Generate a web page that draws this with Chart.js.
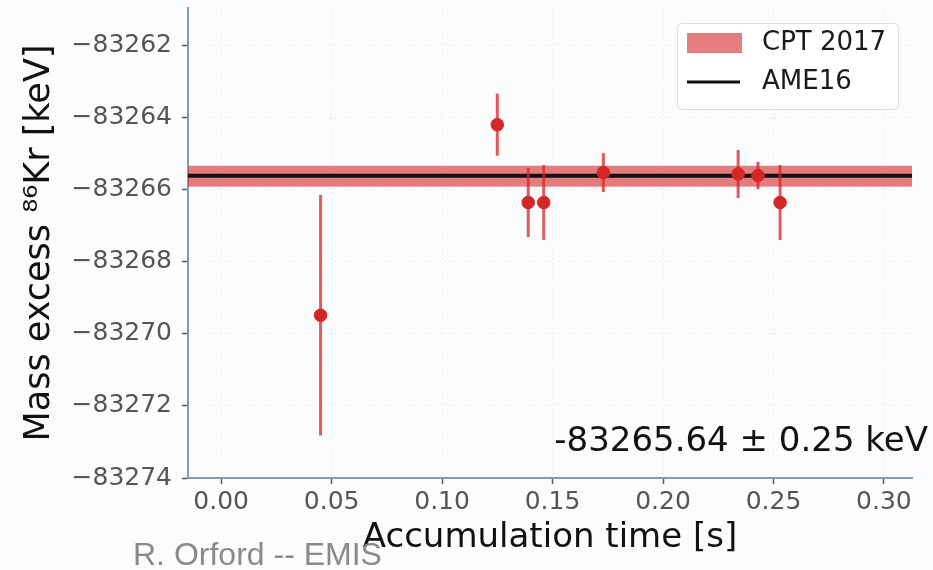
<!DOCTYPE html>
<html lang="en">
<head>
  <meta charset="UTF-8" />
  <title>Mass excess 86Kr vs accumulation time</title>
  <script src="https://cdn.jsdelivr.net/npm/chart.js"></script>
  <style>
    html, body { margin: 0; padding: 0; background: #fbfcfd; }
    #wrap { position: relative; width: 933px; height: 570px; }
  </style>
</head>
<body>
  <div id="wrap"><canvas id="krChart" width="933" height="570"></canvas></div>

  <script>
    // measurements
    const accTime = [0.045, 0.125, 0.139, 0.146, 0.173, 0.234, 0.243, 0.253];
    const massExcess = [-83269.48, -83264.19, -83266.35, -83266.35, -83265.52, -83265.56, -83265.60, -83266.35];
    const massErr = [3.34, 0.86, 0.96, 1.04, 0.54, 0.67, 0.38, 1.04];

    // reference values
    const cptValue = -83265.62;
    const cptHalfWidth = 0.29;
    const ame16Value = -83265.61;
    const resultText = '-83265.64 \u00b1 0.25 keV';

    // axes
    const xTicks = [0.00, 0.05, 0.10, 0.15, 0.20, 0.25, 0.30];
    const yTicks = [-83274, -83272, -83270, -83268, -83266, -83264, -83262];
    const xRange = [-0.015, 0.3127];
    const yRange = [-83274, -83260.95];

    const points = accTime.map((t, i) => ({ x: t, y: massExcess[i] }));

    const RED = '#d62728';
    const ERR_RED = 'rgba(214, 39, 40, 0.75)';
    const BAND_RED = 'rgba(214, 39, 40, 0.6)';
    const SPINE = '#7f9bbd';

    // band, reference line, error bars, legend, annotations
    const decorPlugin = {
      id: 'decor',
      beforeDatasetsDraw(chart) {
        const { ctx, chartArea: a, scales: { x, y } } = chart;
        ctx.save();
        ctx.beginPath();
        ctx.rect(a.left, a.top, a.right - a.left, a.bottom - a.top);
        ctx.clip();
        // CPT 2017 band
        const yHi = y.getPixelForValue(cptValue + cptHalfWidth);
        const yLo = y.getPixelForValue(cptValue - cptHalfWidth);
        ctx.fillStyle = BAND_RED;
        ctx.fillRect(a.left, yHi, a.right - a.left, yLo - yHi);
        // AME16 line
        const yA = y.getPixelForValue(ame16Value);
        ctx.strokeStyle = '#111';
        ctx.lineWidth = 4;
        ctx.beginPath();
        ctx.moveTo(a.left, yA);
        ctx.lineTo(a.right, yA);
        ctx.stroke();
        // error bars
        ctx.strokeStyle = ERR_RED;
        ctx.lineWidth = 3;
        accTime.forEach((t, i) => {
          const px = x.getPixelForValue(t);
          ctx.beginPath();
          ctx.moveTo(px, y.getPixelForValue(massExcess[i] + massErr[i]));
          ctx.lineTo(px, y.getPixelForValue(massExcess[i] - massErr[i]));
          ctx.stroke();
        });
        ctx.restore();
      },
      afterDraw(chart) {
        const { ctx } = chart;
        ctx.save();
        // legend
        const lx = 677, ly = 23, lw = 221, lh = 86;
        ctx.fillStyle = 'rgba(255,255,255,0.85)';
        ctx.strokeStyle = '#dcdcdc';
        ctx.lineWidth = 1;
        ctx.beginPath();
        ctx.roundRect(lx + 0.5, ly + 0.5, lw, lh, 4);
        ctx.fill();
        ctx.stroke();
        ctx.fillStyle = BAND_RED;
        ctx.fillRect(687, 33, 55, 20);
        ctx.strokeStyle = '#111';
        ctx.lineWidth = 3;
        ctx.beginPath();
        ctx.moveTo(687, 82);
        ctx.lineTo(740, 82);
        ctx.stroke();
        ctx.fillStyle = '#1a1a1a';
        ctx.font = '26px "DejaVu Sans"';
        ctx.textBaseline = 'middle';
        ctx.fillText('CPT 2017', 762, 43);
        ctx.fillText('AME16', 762, 82);

        // result text
        ctx.fillStyle = '#111';
        ctx.font = '34px "DejaVu Sans"';
        ctx.textAlign = 'right';
        ctx.fillText(resultText, 928, 442);

        // credit
        ctx.fillStyle = '#8a8a8a';
        ctx.font = '32px "Liberation Sans"';
        ctx.textAlign = 'left';
        ctx.fillText('R. Orford -- EMIS', 133, 556);
        ctx.restore();
      }
    };

    const ctx = document.getElementById('krChart').getContext('2d');
    new Chart(ctx, {
      type: 'scatter',
      data: {
        datasets: [{
          label: 'data',
          data: points,
          backgroundColor: RED,
          borderColor: RED,
          pointRadius: 6.3,
          pointHoverRadius: 6.3
        }]
      },
      options: {
        responsive: false,
        animation: false,
        events: [],
        layout: { padding: { top: 8, right: 21, left: 0, bottom: 0 } },
        plugins: {
          legend: { display: false },
          tooltip: { enabled: false }
        },
        scales: {
          x: {
            type: 'linear',
            min: xRange[0],
            max: xRange[1],
            afterFit(scale) {
              scale.height = 92;
              scale.paddingLeft = 0;
              scale.paddingRight = 0;
            },
            afterBuildTicks(scale) { scale.ticks = xTicks.map(v => ({ value: v })); },
            border: { color: SPINE, width: 2, dash: [2, 3] },
            grid: { color: '#e9edf1', lineWidth: 1, tickColor: '#555', tickLength: 6, tickWidth: 1.5 },
            ticks: {
              color: '#555',
              font: { family: 'DejaVu Sans', size: 25 },
              padding: 3,
              maxRotation: 0,
              callback: v => v.toFixed(2)
            },
            title: {
              display: true,
              text: 'Accumulation time [s]',
              color: '#111',
              font: { family: 'DejaVu Sans', size: 34 },
              padding: { top: 0, bottom: 11 }
            }
          },
          y: {
            type: 'linear',
            min: yRange[0],
            max: yRange[1],
            afterFit(scale) {
              scale.width = 188;
              scale.paddingTop = 0;
              scale.paddingBottom = 0;
            },
            afterBuildTicks(scale) { scale.ticks = yTicks.map(v => ({ value: v })); },
            border: { color: SPINE, width: 2, dash: [2, 3] },
            grid: { color: '#e9edf1', lineWidth: 1, tickColor: '#555', tickLength: 6, tickWidth: 1.5 },
            ticks: {
              color: '#555',
              font: { family: 'DejaVu Sans', size: 25 },
              padding: 10,
              callback: v => '\u2212' + Math.abs(v)
            },
            title: {
              display: true,
              text: 'Mass excess \u2078\u2076Kr [keV]',
              color: '#111',
              font: { family: 'DejaVu Sans', size: 35 },
              padding: { top: 19, bottom: 0 }
            }
          }
        }
      },
      plugins: [decorPlugin]
    });
  </script>
</body>
</html>
